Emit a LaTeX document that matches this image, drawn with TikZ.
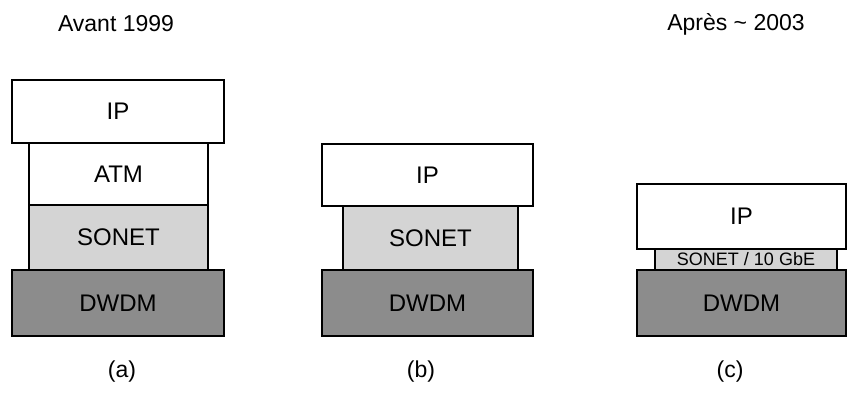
\documentclass[tikz,border=0pt]{standalone}
\usepackage{fontspec}
\setmainfont{Liberation Sans}
\definecolor{sonetgray}{RGB}{212,212,212}
\definecolor{dwdmgray}{RGB}{140,140,140}
\tikzset{layer/.style={draw=black, line width=2.5pt, inner sep=0pt, font=\fontsize{24}{28}\selectfont},
  title/.style={font=\fontsize{23}{27}\selectfont}}
\begin{document}
\begin{tikzpicture}[x=1pt,y=-1pt]
\useasboundingbox (0,0) rectangle (848,392);
%(a) Avant 1999
\node[title] (avant) at (116,24) {Avant 1999};
\node[layer, fill=white, minimum width=179pt, minimum height=62pt] (atma) at (118.5,174) {ATM};
\node[layer, fill=sonetgray, minimum width=179pt, minimum height=65pt] (soneta) at (118.5,237.5) {SONET};
\node[layer, fill=white, minimum width=212pt, minimum height=63pt] (ipa) at (118,111.5) {IP};
\node[layer, fill=dwdmgray, minimum width=212pt, minimum height=66pt] (dwdma) at (118,303) {DWDM};
\node[title] (laba) at (122,372) {(a)};
%(b)
\node[layer, fill=sonetgray, minimum width=175pt, minimum height=64pt] (sonetb) at (430.5,238) {SONET};
\node[layer, fill=white, minimum width=211pt, minimum height=62pt] (ipb) at (427.5,175) {IP};
\node[layer, fill=dwdmgray, minimum width=211pt, minimum height=66pt] (dwdmb) at (427.5,303) {DWDM};
\node[title] (labb) at (421,372) {(b)};
%(c) Apres ~ 2003
\node[title] (apres) at (736,24) {Après \char`\~\ 2003};
\node[layer, fill=sonetgray, minimum width=182pt, minimum height=21pt, font=\fontsize{18}{20}\selectfont] (sonetc) at (746,259.5) {SONET / 10 GbE};
\node[layer, fill=white, minimum width=209pt, minimum height=65pt] (ipc) at (741.5,216.5) {IP};
\node[layer, fill=dwdmgray, minimum width=209pt, minimum height=66pt] (dwdmc) at (741.5,303) {DWDM};
\node[title] (labc) at (730,372) {(c)};
\end{tikzpicture}
\end{document}
